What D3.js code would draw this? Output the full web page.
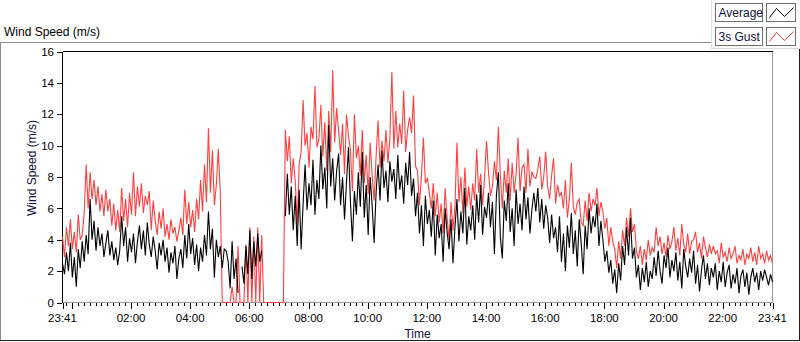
<!DOCTYPE html>
<html>
<head>
<meta charset="utf-8">
<script src="https://cdn.jsdelivr.net/npm/d3@7/dist/d3.min.js"></script>
<style>
  html, body { margin: 0; padding: 0; background: #fff; }
  svg { display: block; font-family: "Liberation Sans", Arial, sans-serif; }
  .frame line, .frame rect { shape-rendering: crispEdges; }
</style>
</head>
<body>
<svg id="chart" width="800" height="342"></svg>
<script>
// one sample every 4 minutes, from 23:41 to 23:41 the next day (361 samples)
const startTime = new Date(2020, 0, 1, 23, 41);
const endTime = new Date(2020, 0, 2, 23, 41);
const stepMinutes = 4;

// Average wind speed (m/s), null = no data
const average = [
  2.5, 1.8, 3.2, 2.0, 3.8, 1.6, 2.9, 1.0, 3.4, 2.2,
  3.9, 2.6, 4.3, 3.1, 6.6, 4.0, 5.2, 3.3, 4.8, 3.6,
  4.4, 2.9, 3.8, 4.6, 3.0, 3.9, 2.7, 3.5, 2.4, 3.3,
  5.5, 3.6, 4.8, 2.6, 4.1, 3.2, 4.4, 2.5, 3.9, 4.9,
  3.4, 4.6, 3.0, 5.1, 3.7, 2.9, 4.2, 3.3, 2.1, 3.8,
  3.0, 4.0, 2.6, 3.5, 1.9, 3.2, 2.5, 3.6, 1.5, 2.8,
  3.4, 2.2, 4.3, 2.8, 5.0, 3.1, 4.1, 2.4, 3.7, 2.0,
  3.5, 2.6, 4.3, 3.0, 5.8, 3.4, 4.7, 1.6, 4.0, 2.9,
  3.6, 2.2, 3.4, 3.3, 2.6, 0.9, 3.9, 1.5, 2.8, 0.6,
  null, 2.3, 1.2, 3.6, 1.8, 4.6, 1.5, 3.9, 2.3, 4.4,
  2.6, 3.3, null, null, null, null, null, null, null, null,
  null, null, null, 5.5, 8.2, 5.6, 7.4, 4.6, 6.8, 3.6,
  7.2, 3.4, 6.3, 8.8, 5.9, 7.6, 6.2, 9.1, 5.6, 7.8,
  6.6, 10.0, 7.2, 8.6, 6.0, 11.3, 7.4, 9.2, 6.5, 8.4,
  9.5, 6.2, 8.0, 5.3, 7.7, 9.9, 6.4, 3.9, 7.1, 5.6,
  8.3, 6.1, 9.6, 5.4, 7.5, 4.3, 8.0, 6.2, 3.8, 7.0,
  8.8, 6.5, 9.7, 7.3, 8.4, 6.4, 9.0, 7.7, 8.5, 6.6,
  9.4, 7.2, 8.1, 6.3, 8.9, 7.5, 9.6, 6.8, 7.9, 5.5,
  7.0, 4.4, 6.2, 3.6, 6.8, 5.0, 5.9, 4.2, 6.5, 3.0,
  5.6, 4.1, 5.0, 2.6, 6.0, 4.5, 3.4, 5.3, 2.5, 4.8,
  6.6, 3.9, 5.8, 4.4, 7.3, 3.7, 5.5, 4.6, 6.2, 4.0,
  6.9, 5.1, 7.5, 4.3, 6.1, 5.4, 7.0, 4.8, 6.4, 3.1,
  6.8, 8.3, 4.2, 2.8, 6.5, 5.2, 7.6, 4.5, 6.0, 3.6,
  7.2, 5.0, 6.3, 4.6, 7.4, 5.3, 6.7, 4.4, 5.9, 7.0,
  5.8, 7.3, 5.1, 6.6, 4.7, 6.2, 5.4, 3.8, 5.6, 4.1,
  4.8, 3.2, 5.5, 2.6, 4.4, 2.0, 4.9, 3.5, 5.7, 3.1,
  4.6, 2.3, 5.3, 3.8, 1.8, 4.9, 3.4, 6.0, 4.4, 5.5,
  4.8, 6.3, 3.6, 5.2, 4.0, 2.6, 3.3, 1.9, 2.7, 1.2,
  2.1, 0.6, 2.5, 1.4, 3.6, 2.4, 4.8, 3.0, 5.4, 2.8,
  3.5, 1.6, 2.4, 0.8, 2.2, 1.3, 2.6, 1.0, 2.0, 1.5,
  2.9, 1.7, 3.3, 2.0, 1.2, 3.0, 2.2, 3.5, 1.6, 2.7,
  2.0, 3.2, 1.4, 2.6, 0.9, 3.4, 2.3, 1.6, 2.8, 1.9,
  3.3, 1.2, 2.4, 0.7, 2.1, 3.0, 1.5, 2.5, 1.1, 2.2,
  1.6, 2.5, 0.8, 2.0, 1.3, 2.6, 1.0, 1.9, 2.4, 0.9,
  1.8, 1.2, 2.2, 0.6, 1.7, 2.1, 1.0, 1.9, 0.5, 1.6,
  2.2, 1.3, 1.9, 0.8, 2.0, 1.4, 2.1, 1.6, 1.1, 1.8, 1.3
];

// 3 second gust (m/s)
const gust = [
  4.2, 2.9, 4.8, 3.6, 5.3, 3.4, 4.5, 3.2, 5.6, 4.0,
  4.3, 5.7, 8.8, 6.0, 8.3, 6.6, 7.8, 6.2, 7.4, 5.8,
  6.9, 5.5, 7.2, 5.8, 6.6, 4.9, 6.3, 4.6, 5.9, 4.5,
  7.3, 5.2, 6.6, 4.8, 7.0, 5.6, 8.3, 5.5, 7.4, 6.1,
  7.6, 5.7, 6.8, 6.2, 7.1, 4.6, 6.5, 5.2, 4.3, 5.8,
  4.7, 6.0, 4.2, 5.0, 4.0, 5.3, 4.4, 4.8, 3.9, 4.6,
  5.4, 4.3, 7.2, 5.0, 6.4, 4.8, 5.9, 4.5, 6.6, 5.3,
  7.8, 5.8, 8.8, 6.4, 11.1, 7.0, 9.7, 6.2, 7.5, 9.8,
  7.0, 0, 0, 0, 0, 0, 1.0, 0, 0, 3.6,
  0, 0, 0, 3.7, 0, 4.8, 0, 4.2, 0, 4.8,
  0, 4.3, 0, 0, 0, 0, 0, 0, 0, 0,
  0, 0, 0, 11.0, 9.0, 10.6, 7.6, 9.2, 7.8, 4.9,
  8.8, 9.6, 12.9, 10.0, 10.8, 8.6, 11.2, 10.4, 13.8, 9.9,
  10.4, 12.6, 9.3, 11.5, 8.4, 12.2, 9.6, 14.8, 10.2, 12.4,
  11.0, 9.4, 11.4, 8.2, 12.0, 10.6, 9.7, 7.1, 12.0, 9.2,
  10.0, 8.1, 11.0, 7.6, 9.4, 6.9, 10.2, 8.1, 6.5, 9.3,
  11.6, 8.6, 10.3, 9.0, 11.0, 8.9, 10.5, 14.7, 9.8, 12.2,
  9.9, 11.4, 10.1, 13.5, 9.6, 11.0, 11.8, 10.8, 13.2, 8.7,
  8.4, 6.2, 8.1, 10.5, 7.6, 7.9, 7.0, 6.0, 7.6, 5.5,
  7.0, 5.1, 6.3, 4.4, 7.3, 5.4, 4.0, 6.4, 4.6, 6.2,
  10.2, 6.4, 8.0, 5.7, 8.6, 6.1, 7.4, 5.9, 7.6, 6.5,
  9.8, 7.0, 8.2, 6.2, 7.9, 10.3, 8.3, 6.8, 7.4, 9.0,
  7.8, 11.2, 8.1, 6.0, 8.4, 7.0, 9.2, 6.5, 8.9, 7.0,
  8.2, 10.5, 7.1, 8.6, 8.8, 7.0, 9.8, 7.4, 8.3, 8.0,
  7.9, 8.5, 9.3, 7.2, 8.0, 9.6, 7.4, 6.6, 8.1, 9.2,
  6.3, 7.5, 6.8, 7.0, 6.0, 7.8, 5.4, 6.6, 8.9, 6.1,
  5.6, 6.4, 6.6, 5.1, 4.9, 6.5, 5.2, 7.0, 5.8, 6.6,
  6.2, 7.3, 5.5, 6.4, 5.8, 4.7, 5.4, 3.6, 4.8, 3.9,
  3.4, 2.2, 3.9, 2.8, 4.6, 3.6, 5.4, 4.2, 6.0, 4.5,
  5.0, 3.3, 2.8, 3.6, 2.4, 3.4, 2.7, 4.0, 3.0, 3.5,
  3.2, 4.8, 3.6, 4.2, 3.1, 3.8, 2.9, 4.3, 3.4, 3.9,
  4.8, 3.3, 4.1, 3.0, 5.0, 3.7, 3.2, 4.4, 3.1, 3.9,
  4.0, 4.5, 3.2, 3.8, 2.8, 4.2, 3.5, 2.9, 3.7, 3.1,
  3.6, 3.1, 3.3, 2.5, 3.8, 2.9, 3.2, 2.6, 3.5, 2.8,
  3.1, 3.6, 2.5, 3.0, 2.7, 3.4, 2.4, 3.1, 2.8, 3.5,
  2.6, 3.2, 2.4, 3.6, 2.8, 3.1, 2.5, 3.3, 2.7, 3.0, 2.5
];

const seriesNames = ["Average", "3s Gust"];
const seriesColors = ["#000000", "#ff4040"];
const yTicks = [0, 2, 4, 6, 8, 10, 12, 14, 16];
const timeLabels = ["23:41", "02:00", "04:00", "06:00", "08:00", "10:00", "12:00",
                    "14:00", "16:00", "18:00", "20:00", "22:00", "23:41"];

const svg = d3.select("#chart");
const plot = { left: 62.5, right: 772.5, top: 51.5, bottom: 302.5 };

const x = d3.scaleTime().domain([startTime, endTime]).range([plot.left, plot.right]);
const y = d3.scaleLinear().domain([0, 16]).range([plot.bottom, plot.top]);

const timeAt = i => new Date(startTime.getTime() + i * stepMinutes * 60000);

// outer panel
const frame = svg.append("g").attr("class", "frame");
frame.append("line").attr("x1", 0).attr("x2", 711).attr("y1", 42.5).attr("y2", 42.5).attr("stroke", "#8c8c8c");
frame.append("line").attr("x1", 0.5).attr("x2", 0.5).attr("y1", 42).attr("y2", 341).attr("stroke", "#8c8c8c");
frame.append("line").attr("x1", 0).attr("x2", 800).attr("y1", 340.5).attr("y2", 340.5).attr("stroke", "#202020");
frame.append("line").attr("x1", 799.5).attr("x2", 799.5).attr("y1", 48).attr("y2", 341).attr("stroke", "#202020");
// legend container edge
frame.append("line").attr("x1", 711.5).attr("x2", 711.5).attr("y1", 0).attr("y2", 48).attr("stroke", "#dcdcdc");
frame.append("line").attr("x1", 711).attr("x2", 800).attr("y1", 48.5).attr("y2", 48.5).attr("stroke", "#dcdcdc");

svg.append("text")
  .attr("x", 4).attr("y", 36)
  .attr("font-size", 12)
  .text("Wind Speed (m/s)");

// plot area
frame.append("rect")
  .attr("x", plot.left).attr("y", plot.top)
  .attr("width", plot.right - plot.left).attr("height", plot.bottom - plot.top)
  .attr("fill", "#fff");
frame.append("line").attr("x1", plot.left).attr("x2", plot.right).attr("y1", plot.bottom).attr("y2", plot.bottom).attr("stroke", "#9a9a9a");
frame.append("line").attr("x1", plot.right).attr("x2", plot.right).attr("y1", plot.top).attr("y2", plot.bottom).attr("stroke", "#9a9a9a");

// series: gust first, average drawn over it
const series = [
  { name: seriesNames[1], color: seriesColors[1], values: gust },
  { name: seriesNames[0], color: seriesColors[0], values: average }
];

const line = d3.line()
  .defined(d => d.v != null)
  .x(d => x(d.t))
  .y(d => y(d.v));

svg.append("g")
  .selectAll("path")
  .data(series)
  .join("path")
    .attr("fill", "none")
    .attr("stroke", d => d.color)
    .attr("stroke-width", 1.1)
    .attr("stroke-linejoin", "miter")
    .attr("d", d => line(d.values.map((v, i) => ({ t: timeAt(i), v }))));

frame.append("line").attr("x1", plot.left).attr("x2", plot.right).attr("y1", plot.top).attr("y2", plot.top).attr("stroke", "#000");
frame.append("line").attr("x1", plot.left).attr("x2", plot.left).attr("y1", plot.top).attr("y2", plot.bottom).attr("stroke", "#000");

// y axis
const yAxis = svg.append("g")
  .attr("transform", `translate(${plot.left - 0.5},0)`)
  .call(d3.axisLeft(y).tickValues(yTicks).tickSize(5).tickPadding(3).tickFormat(d3.format("d")));
yAxis.select(".domain").remove();
yAxis.selectAll("line").attr("shape-rendering", "crispEdges");
yAxis.selectAll("text").attr("font-family", "Liberation Sans, Arial, sans-serif").attr("font-size", 11.5).attr("fill", "#000");

svg.append("text")
  .attr("transform", "translate(35.5,168) rotate(-90)")
  .attr("text-anchor", "middle")
  .attr("font-size", 12)
  .attr("fill", "#10103a")
  .text("Wind Speed (m/s)");

// x axis: minor ticks every 12 minutes, major every 2 hours
const minorTicks = d3.timeMinute.every(12).range(startTime, endTime);
const majorTicks = [startTime, ...d3.timeHour.every(2).range(startTime, endTime), endTime];

const xMinor = svg.append("g")
  .attr("transform", `translate(0,${plot.bottom + 0.5})`)
  .call(d3.axisBottom(x).tickValues(minorTicks).tickSize(3).tickFormat(""));
xMinor.select(".domain").remove();
xMinor.selectAll("line").attr("shape-rendering", "crispEdges");

const xMajor = svg.append("g")
  .attr("transform", `translate(0,${plot.bottom + 0.5})`)
  .call(d3.axisBottom(x).tickValues(majorTicks).tickSize(6).tickFormat(""));
xMajor.select(".domain").remove();
xMajor.selectAll("line").attr("shape-rendering", "crispEdges");

const labelTime = (s, i) => {
  if (i === 0) return startTime;
  if (i === timeLabels.length - 1) return endTime;
  const [h, m] = s.split(":").map(Number);
  return new Date(2020, 0, 2, h, m);
};

svg.append("g")
  .selectAll("text")
  .data(timeLabels)
  .join("text")
    .attr("x", (d, i) => x(labelTime(d, i)))
    .attr("y", 322)
    .attr("text-anchor", "middle")
    .attr("font-size", 11.5)
    .text(d => d);

svg.append("text")
  .attr("x", (plot.left + plot.right) / 2)
  .attr("y", 338)
  .attr("text-anchor", "middle")
  .attr("font-size", 12)
  .attr("fill", "#10103a")
  .text("Time");

// legend
const legend = svg.append("g").attr("class", "frame")
  .selectAll("g")
  .data(seriesNames)
  .join("g")
    .attr("transform", (d, i) => `translate(715.5,${3.5 + i * 24})`);

legend.append("rect")
  .attr("width", 47).attr("height", 18)
  .attr("fill", "#fff").attr("stroke", "#6e6e6e");
legend.append("text")
  .attr("x", 3).attr("y", 13.5)
  .attr("font-size", 12)
  .attr("fill", "#10103a")
  .text(d => d);
legend.append("rect")
  .attr("x", 51).attr("width", 29).attr("height", 18)
  .attr("fill", "#fff").attr("stroke", "#6e6e6e");
legend.append("polyline")
  .attr("points", "54,14 61,5 69,13 78,4")
  .attr("fill", "none")
  .attr("stroke", (d, i) => seriesColors[i]);
</script>
</body>
</html>
